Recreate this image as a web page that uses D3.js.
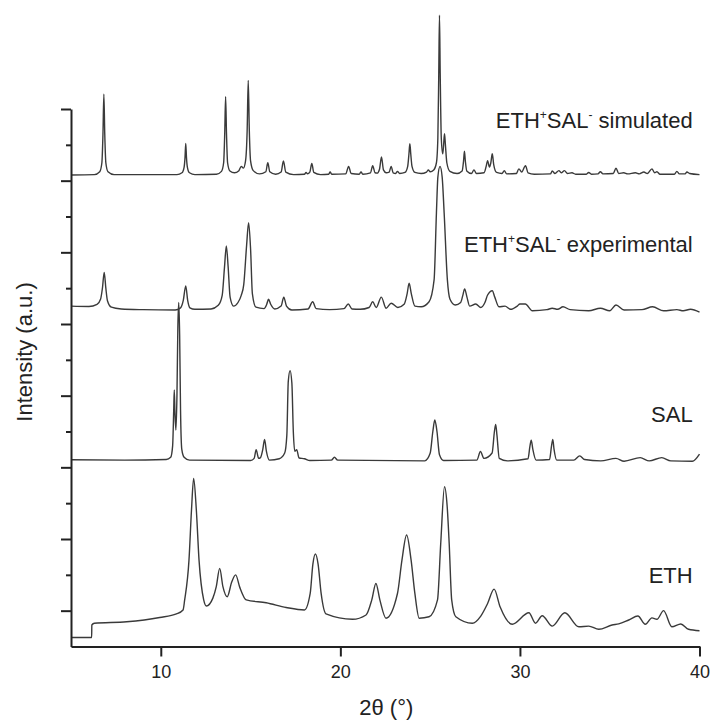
<!DOCTYPE html>
<html>
<head>
<meta charset="utf-8">
<script src="https://cdn.jsdelivr.net/npm/d3@7"></script>
<style>
  body { margin: 0; background: #fff; }
  svg { display: block; font-family: "Liberation Sans", Arial, sans-serif; }
</style>
</head>
<body>
<div id="chart"></div>
<script>
// XRD patterns, 2theta (deg) vs stacked intensity (a.u.)
const simulated = [
  [5.0, 13.16], [6.3, 13.17], [6.6, 13.25], [6.72, 13.5], [6.78, 14.3], [6.83, 15.41], [6.88, 14.3], [6.94, 13.5], [7.06, 13.25], [7.4, 13.17],
  [10.9, 13.17], [11.18, 13.22], [11.3, 13.38], [11.35, 13.65], [11.39, 14.04], [11.43, 13.65], [11.48, 13.38], [11.6, 13.22], [11.9, 13.17],
  [13.1, 13.18], [13.38, 13.26], [13.5, 13.5], [13.56, 14.3], [13.61, 15.34], [13.66, 14.3], [13.72, 13.5], [13.85, 13.27], [14.1, 13.22],
  [14.35, 13.28], [14.48, 13.4], [14.6, 13.35], [14.72, 13.55], [14.81, 14.4], [14.87, 15.8], [14.93, 14.4], [15.0, 13.55], [15.15, 13.28],
  [15.5, 13.19], [15.85, 13.25], [15.96, 13.5], [16.07, 13.25], [16.4, 13.18], [16.7, 13.24], [16.83, 13.55], [16.96, 13.24], [17.4, 13.17],
  [18.0, 13.18], [18.09, 13.23], [18.17, 13.19], [18.3, 13.24], [18.41, 13.48], [18.52, 13.23], [18.9, 13.17], [19.35, 13.18], [19.43, 13.24],
  [19.52, 13.18], [20.3, 13.19], [20.46, 13.4], [20.6, 13.2], [21.05, 13.18], [21.15, 13.24], [21.25, 13.18], [21.68, 13.22], [21.8, 13.42],
  [21.93, 13.22], [22.05, 13.21], [22.18, 13.32], [22.29, 13.66], [22.4, 13.3], [22.55, 13.22], [22.72, 13.24], [22.83, 13.4], [22.94, 13.22],
  [23.08, 13.2], [23.18, 13.26], [23.3, 13.2], [23.6, 13.23], [23.75, 13.4], [23.82, 13.75], [23.87, 14.03], [23.92, 13.75], [23.99, 13.4],
  [24.15, 13.23], [24.5, 13.2], [24.8, 13.24], [24.9, 13.3], [25.0, 13.25], [25.2, 13.3], [25.35, 13.5], [25.43, 14.2], [25.48, 16.0],
  [25.52, 17.62], [25.56, 16.0], [25.62, 14.2], [25.7, 13.75], [25.75, 14.0], [25.8, 14.31], [25.85, 14.0], [25.93, 13.5], [26.1, 13.26],
  [26.5, 13.2], [26.78, 13.27], [26.86, 13.55], [26.91, 13.82], [26.96, 13.55], [27.04, 13.27], [27.3, 13.2], [27.44, 13.3], [27.58, 13.2],
  [28.0, 13.22], [28.12, 13.4], [28.2, 13.56], [28.3, 13.38], [28.38, 13.5], [28.46, 13.75], [28.54, 13.45], [28.7, 13.23], [29.0, 13.2],
  [29.13, 13.28], [29.26, 13.19], [29.8, 13.2], [29.94, 13.33], [30.1, 13.24], [30.31, 13.42], [30.45, 13.22], [30.8, 13.18], [31.7, 13.19],
  [31.8, 13.27], [31.95, 13.2], [32.17, 13.28], [32.3, 13.22], [32.48, 13.28], [32.65, 13.2], [32.9, 13.22], [33.1, 13.18], [33.7, 13.18],
  [33.83, 13.23], [33.98, 13.18], [34.35, 13.19], [34.48, 13.25], [34.62, 13.19], [35.2, 13.2], [35.35, 13.35], [35.5, 13.2], [35.78, 13.22],
  [36.0, 13.19], [36.43, 13.22], [36.65, 13.19], [36.9, 13.24], [37.1, 13.2], [37.35, 13.33], [37.5, 13.22], [37.63, 13.25], [37.8, 13.18],
  [38.6, 13.18], [38.74, 13.26], [38.88, 13.19], [39.2, 13.19], [39.3, 13.24], [39.45, 13.2], [40.0, 13.17]
]

const experimental = [
  [5.0, 9.50], [6.0, 9.49], [6.45, 9.55], [6.65, 9.7], [6.75, 10.0], [6.85, 10.44], [6.94, 10.0], [7.03, 9.65], [7.25, 9.47], [7.8, 9.42],
  [9.0, 9.40], [10.8, 9.39], [11.1, 9.45], [11.25, 9.65], [11.39, 10.06], [11.5, 9.65], [11.62, 9.45], [11.9, 9.41], [12.8, 9.42],
  [13.2, 9.52], [13.42, 9.8], [13.55, 10.6], [13.65, 11.18], [13.75, 10.6], [13.86, 9.75], [14.05, 9.5], [14.3, 9.6], [14.48, 9.8],
  [14.62, 10.1], [14.78, 11.2], [14.89, 11.83], [15.0, 11.1], [15.1, 9.85], [15.3, 9.47], [15.75, 9.43], [15.9, 9.55], [16.0, 9.69],
  [16.12, 9.55], [16.35, 9.42], [16.7, 9.5], [16.85, 9.75], [17.0, 9.5], [17.3, 9.39], [18.2, 9.42], [18.46, 9.62], [18.65, 9.43],
  [19.4, 9.40], [20.2, 9.43], [20.44, 9.56], [20.65, 9.42], [21.1, 9.41], [21.6, 9.46], [21.8, 9.62], [22.0, 9.46], [22.28, 9.75],
  [22.55, 9.44], [22.83, 9.58], [23.2, 9.46], [23.55, 9.55], [23.72, 9.85], [23.83, 10.14], [23.95, 9.85], [24.15, 9.5], [24.5, 9.48],
  [24.94, 9.62], [25.22, 10.23], [25.35, 12.1], [25.43, 13.1], [25.55, 13.4], [25.67, 13.1], [25.78, 12.1], [25.96, 10.23], [26.1, 9.7],
  [26.4, 9.53], [26.7, 9.6], [26.82, 9.8], [26.92, 9.98], [27.05, 9.75], [27.2, 9.5], [27.54, 9.56], [27.82, 9.46], [28.05, 9.6],
  [28.2, 9.81], [28.46, 9.93], [28.6, 9.75], [28.83, 9.48], [29.17, 9.50], [29.48, 9.41], [29.85, 9.5], [30.0, 9.56], [30.3, 9.56],
  [30.69, 9.37], [31.5, 9.4], [31.8, 9.44], [32.1, 9.41], [32.4, 9.48], [32.8, 9.40], [33.83, 9.37], [34.48, 9.44], [35.0, 9.37],
  [35.35, 9.53], [35.8, 9.39], [36.8, 9.4], [37.39, 9.48], [38.0, 9.37], [38.74, 9.40], [39.1, 9.37], [39.5, 9.41], [40.0, 9.33]
]

const sal = [
  [5.0, 5.21], [8.0, 5.20], [10.3, 5.22], [10.55, 5.28], [10.66, 5.6], [10.72, 6.6], [10.75, 7.16], [10.79, 6.5], [10.84, 6.04],
  [10.9, 7.0], [10.95, 8.9], [11.0, 9.60], [11.05, 8.7], [11.1, 6.6], [11.17, 5.5], [11.3, 5.28], [11.6, 5.2], [15.0, 5.19],
  [15.2, 5.25], [15.31, 5.49], [15.45, 5.25], [15.55, 5.27], [15.68, 5.5], [15.78, 5.78], [15.88, 5.45], [16.05, 5.2], [16.6, 5.24],
  [16.9, 5.4], [17.02, 5.9], [17.1, 7.4], [17.2, 7.70], [17.3, 7.35], [17.38, 6.0], [17.46, 5.45], [17.57, 5.49], [17.7, 5.26],
  [18.0, 5.24], [18.3, 5.19], [19.5, 5.2], [19.67, 5.28], [19.85, 5.2], [24.7, 5.18], [25.0, 5.39], [25.15, 6.0], [25.26, 6.32],
  [25.38, 6.0], [25.52, 5.35], [25.75, 5.19], [27.6, 5.2], [27.8, 5.44], [28.0, 5.25], [28.45, 5.4], [28.58, 6.0], [28.65, 6.20],
  [28.72, 5.9], [28.85, 5.25], [29.3, 5.18], [30.45, 5.24], [30.56, 5.6], [30.63, 5.76], [30.72, 5.5], [30.9, 5.2], [31.65, 5.22],
  [31.76, 5.6], [31.83, 5.78], [31.9, 5.5], [32.05, 5.2], [33.0, 5.2], [33.33, 5.32], [33.6, 5.22], [34.5, 5.18], [35.35, 5.25],
  [35.8, 5.17], [36.7, 5.27], [37.2, 5.18], [37.9, 5.27], [38.4, 5.18], [39.6, 5.17], [40.0, 5.37]
]

const eth = [
  [5.0, 0.25], [6.15, 0.25], [6.16, 0.60], [6.3, 0.65], [8.1, 0.69], [9.94, 0.81], [10.87, 0.91], [11.24, 1.02], [11.33, 1.30],
  [11.57, 2.41], [11.71, 3.81], [11.83, 4.69], [11.98, 3.81], [12.13, 2.41], [12.39, 1.30], [12.54, 1.13], [12.9, 1.35], [13.09, 1.67],
  [13.28, 2.18], [13.46, 1.67], [13.7, 1.39], [13.95, 1.8], [14.17, 2.0], [14.4, 1.65], [14.76, 1.30], [15.87, 1.22], [16.98, 1.09],
  [18.0, 1.02], [18.32, 1.48], [18.47, 2.3], [18.61, 2.58], [18.76, 2.3], [18.93, 1.48], [19.2, 0.91], [20.68, 0.76], [21.43, 0.88],
  [21.75, 1.3], [21.98, 1.76], [22.2, 1.3], [22.54, 0.79], [23.18, 1.48], [23.43, 2.41], [23.69, 3.11], [23.94, 2.41], [24.15, 1.48],
  [24.39, 0.79], [24.94, 0.83], [25.41, 1.30], [25.59, 2.88], [25.8, 4.46], [25.95, 3.9], [26.06, 2.88], [26.2, 1.3], [26.43, 0.83],
  [27.35, 0.65], [27.82, 0.85], [28.2, 1.2], [28.56, 1.60], [28.9, 1.1], [29.57, 0.62], [30.5, 0.94], [30.87, 0.65], [31.24, 0.86],
  [31.8, 0.57], [32.5, 0.94], [33.28, 0.55], [33.83, 0.57], [34.39, 0.48], [35.13, 0.60], [35.5, 0.63], [36.06, 0.74], [36.57, 0.85],
  [36.98, 0.62], [37.35, 0.80], [37.63, 0.76], [38.0, 1.00], [38.46, 0.55], [38.96, 0.63], [39.39, 0.48], [40.0, 0.44]
]

const seriesNames = ["simulated", "experimental", "SAL", "ETH"]
const xTicks = [10, 20, 30, 40]
const yTicks = d3.range(1, 16)

const MARGIN = { LEFT: 71, RIGHT: 14.5, TOP: 109, BOTTOM: 73.5 }
const W = 714, H = 720

const svg = d3.select("#chart").append("svg")
  .attr("width", W)
  .attr("height", H)

const x = d3.scaleLinear().domain([5, 40]).range([MARGIN.LEFT, W - MARGIN.RIGHT])
const y = d3.scaleLinear().domain([0, 15]).range([H - MARGIN.BOTTOM, MARGIN.TOP])

const line = d3.line()
  .x(d => x(d[0]))
  .y(d => y(d[1]))
  .curve(d3.curveMonotoneX)

const traces = [simulated, experimental, sal, eth]
svg.append("g").selectAll("path")
  .data(traces)
  .join("path")
  .attr("d", line)
  .attr("fill", "none")
  .attr("stroke", "#3a3a3a")
  .attr("stroke-width", 1.4)
  .attr("stroke-linejoin", "round")

// axes
const xAxis = svg.append("g")
  .attr("transform", `translate(0, ${y(0)})`)
  .call(d3.axisBottom(x).tickValues(xTicks).tickSize(10).tickSizeOuter(0).tickPadding(9))

const yAxis = svg.append("g")
  .attr("transform", `translate(${x(5)}, 0)`)
  .call(d3.axisLeft(y).tickValues(yTicks).tickFormat("").tickSize(10).tickSizeOuter(0))

yAxis.selectAll(".tick line").attr("x2", d => d % 2 === 1 ? -10 : -5)

svg.selectAll(".domain, .tick line")
  .attr("stroke", "#222")
  .attr("stroke-width", 2)

xAxis.selectAll("text")
  .attr("font-size", 18)
  .attr("font-family", "Liberation Sans, Arial, sans-serif")
  .attr("fill", "#222")

// axis titles
svg.append("text")
  .attr("x", (x(5) + x(40)) / 2 + 1)
  .attr("y", 715)
  .attr("text-anchor", "middle")
  .attr("font-size", 22)
  .attr("fill", "#222")
  .text("2θ (°)")

svg.append("text")
  .attr("transform", "rotate(-90)")
  .attr("x", -352)
  .attr("y", 32)
  .attr("text-anchor", "middle")
  .attr("font-size", 22)
  .attr("fill", "#222")
  .text("Intensity (a.u.)")

// trace labels
const labelY = [14.46, 11.02, 6.26, 1.76]
const labels = svg.append("g")
  .attr("font-size", 22)
  .attr("fill", "#222")
  .attr("text-anchor", "end")

seriesNames.forEach((name, i) => {
  const t = labels.append("text")
    .attr("x", x(39.62))
    .attr("y", y(labelY[i]))
  if (i < 2) {
    t.append("tspan").text("ETH")
    t.append("tspan").attr("font-size", 12).attr("dy", -9).text("+")
    t.append("tspan").attr("dy", 9).text("SAL")
    t.append("tspan").attr("font-size", 12).attr("dy", -9).text("-")
    t.append("tspan").attr("dy", 9).text(" " + name)
  } else {
    t.text(name)
  }
})
</script>
</body>
</html>
